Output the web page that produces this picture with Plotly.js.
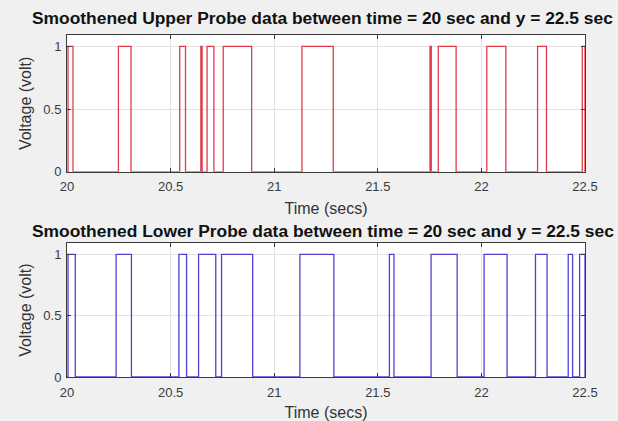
<!DOCTYPE html>
<html>
<head>
<meta charset="utf-8">
<script src="https://cdn.plot.ly/plotly-3.0.1.min.js"></script>
<style>
  html, body { margin: 0; padding: 0; background: #f0f0f0; }
  #chart { width: 618px; height: 421px; }
</style>
</head>
<body>
<div id="chart"></div>
<script>
// Time window shown on both panels (seconds)
const timeStart = 20;
const timeEnd = 22.5;

// Upper probe: times where the smoothed signal switches on / off
const upperRise = [20.005, 20.248, 20.544, 20.646, 20.676, 20.754, 21.134, 21.752, 21.792, 22.026, 22.271, 22.487];
const upperFall = [20.029, 20.309, 20.572, 20.652, 20.709, 20.891, 21.285, 21.758, 21.878, 22.118, 22.314, 22.5];

// Lower probe: times where the smoothed signal switches on / off
const lowerRise = [20.005, 20.237, 20.540, 20.635, 20.746, 21.124, 21.556, 21.757, 22.013, 22.261, 22.419, 22.474];
const lowerFall = [20.040, 20.311, 20.577, 20.718, 20.896, 21.288, 21.578, 21.883, 22.124, 22.317, 22.440, 22.5];

// Axis ticks
const timeTicks = [20, 20.5, 21, 21.5, 22, 22.5];
const voltTicks = [0, 0.5, 1];

// Build a 0/1 square-wave trace from on/off switching times
function squareWave(rise, fall) {
  const x = [timeStart], y = [0];
  for (let i = 0; i < rise.length; i++) {
    x.push(rise[i], rise[i], fall[i], fall[i]);
    y.push(0, 1, 1, 0);
  }
  if (fall[fall.length - 1] < timeEnd) { x.push(timeEnd); y.push(0); }
  return { x, y };
}

const up = squareWave(upperRise, upperFall);
const lo = squareWave(lowerRise, lowerFall);

const traces = [
  { x: up.x, y: up.y, xaxis: 'x', yaxis: 'y', mode: 'lines',
    line: { color: 'rgb(226,58,70)', width: 1.3 }, hoverinfo: 'x+y' },
  { x: lo.x, y: lo.y, xaxis: 'x2', yaxis: 'y2', mode: 'lines',
    line: { color: 'rgb(78,66,210)', width: 1.3 }, hoverinfo: 'x+y' }
];

const tickFont = { family: 'Liberation Sans, Arial, sans-serif', size: 13, color: '#3a3a3a' };
const labelFont = { family: 'Liberation Sans, Arial, sans-serif', size: 16, color: '#333333' };
const titleFont = { family: 'Liberation Sans, Arial, sans-serif', size: 17.4, color: '#111111', weight: 'bold' };

function xAxis(anchor) {
  return {
    anchor: anchor, domain: [0, 1], range: [timeStart, timeEnd],
    tickvals: timeTicks, ticktext: timeTicks.map(String),
    ticks: 'inside', ticklen: 4, tickcolor: '#3a3a3a',
    showline: true, linecolor: '#3a3a3a', linewidth: 1, mirror: 'ticks',
    showgrid: true, gridcolor: '#e2e2e2', zeroline: false,
    tickfont: tickFont, ticklabelstandoff: 3,
    title: { text: 'Time (secs)', font: labelFont, standoff: 9 }
  };
}
function yAxis(anchor, domain) {
  return {
    anchor: anchor, domain: domain, range: [0, 1.09],
    tickvals: voltTicks, ticktext: ['0', '0.5', '1'],
    ticks: 'inside', ticklen: 4, tickcolor: '#3a3a3a',
    showline: true, linecolor: '#3a3a3a', linewidth: 1, mirror: 'ticks',
    showgrid: true, gridcolor: '#e2e2e2', zeroline: false,
    tickfont: tickFont, ticklabelstandoff: 2,
    title: { text: 'Voltage (volt)', font: labelFont, standoff: 7 }
  };
}

const layout = {
  width: 618, height: 421,
  paper_bgcolor: '#f0f0f0', plot_bgcolor: '#ffffff',
  margin: { l: 67, r: 33, t: 35, b: 44 },
  showlegend: false,
  xaxis: xAxis('y'),
  yaxis: yAxis('x', [0.6, 1]),
  xaxis2: xAxis('y2'),
  yaxis2: yAxis('x2', [0, 0.391]),
  annotations: [
    { text: 'Smoothened Upper Probe data between time = 20 sec and y = 22.5 sec',
      xref: 'paper', yref: 'paper', x: 0.494, y: 1.05, xanchor: 'center', yanchor: 'middle',
      showarrow: false, font: titleFont },
    { text: 'Smoothened Lower Probe data between time = 20 sec and y = 22.5 sec',
      xref: 'paper', yref: 'paper', x: 0.494, y: 0.427, xanchor: 'center', yanchor: 'middle',
      showarrow: false, font: titleFont }
  ]
};

Plotly.newPlot('chart', traces, layout, { staticPlot: true, displayModeBar: false });
</script>
</body>
</html>
